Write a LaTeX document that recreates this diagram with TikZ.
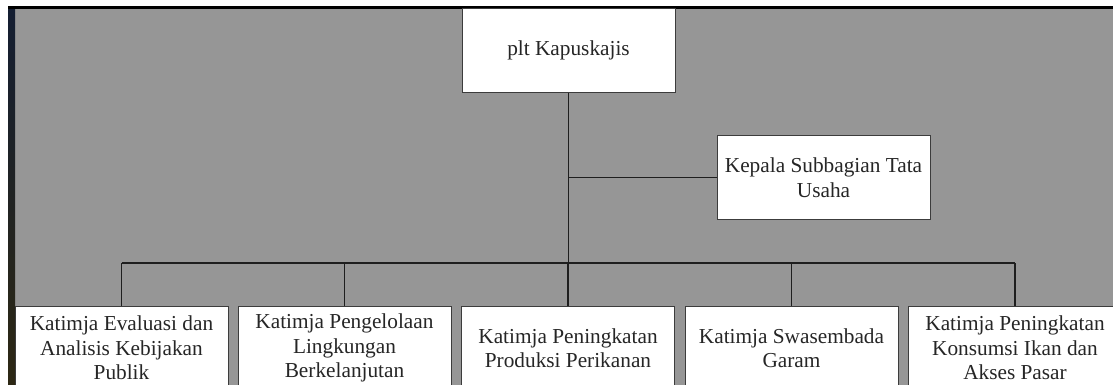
\documentclass[tikz,border=0pt]{standalone}
\usepackage{fontspec}
\setmainfont{Liberation Serif}
\definecolor{bggray}{RGB}{150,150,150}
\definecolor{linec}{RGB}{30,30,30}
\definecolor{boxline}{RGB}{60,60,60}
\begin{document}
\begin{tikzpicture}[x=1pt,y=-1pt,
  orgbox/.style={draw=boxline,line width=1pt,fill=white,minimum width=213pt,minimum height=84pt,inner sep=0pt,align=center,font=\fontsize{21.3}{24.5}\selectfont,text=black!85},
  conn/.style={draw=linec,line width=1.5pt}]
\useasboundingbox (0,0) rectangle (1113,385);
\clip (0,0) rectangle (1113,385);
\fill[white] (0,0) rectangle (1113,385);
\fill[bggray] (8,8) rectangle (1113,385);
\shade[top color={rgb,255:red,20;green,30;blue,50}, middle color={rgb,255:red,40;green,60;blue,100}, bottom color={rgb,255:red,45;green,40;blue,20}] (8,8) rectangle (15,385);
\fill[black] (8,6.5) rectangle (1113,9);
% nodes
\node[orgbox] (top) at (568.5,50.5) {plt Kapuskajis};
\node[orgbox] (kep) at (823.5,177.5) {Kepala Subbagian Tata\\Usaha};
\node[orgbox] (b1) at (121.5,348) {Katimja Evaluasi dan\\Analisis Kebijakan\\Publik};
\node[orgbox] (b2) at (344.5,348) {Katimja Pengelolaan\\Lingkungan\\Berkelanjutan};
\node[orgbox] (b3) at (568,348) {Katimja Peningkatan\\Produksi Perikanan};
\node[orgbox] (b4) at (791.5,348) {Katimja Swasembada\\Garam};
\node[orgbox] (b5) at (1015,348) {Katimja Peningkatan\\Konsumsi Ikan dan\\Akses Pasar};
\coordinate (bus) at (568,263);
% connectors
\draw[conn] (top.south) -- (top.south |- bus);
\draw[conn] (kep.west) -- (kep.west -| top.south);
\draw[conn] (b1.north |- bus) -- (b5.north |- bus);
\foreach \b in {b1,b2,b3,b4,b5} {\draw[conn] (\b.north |- bus) -- (\b.north);}
\end{tikzpicture}
\end{document}
